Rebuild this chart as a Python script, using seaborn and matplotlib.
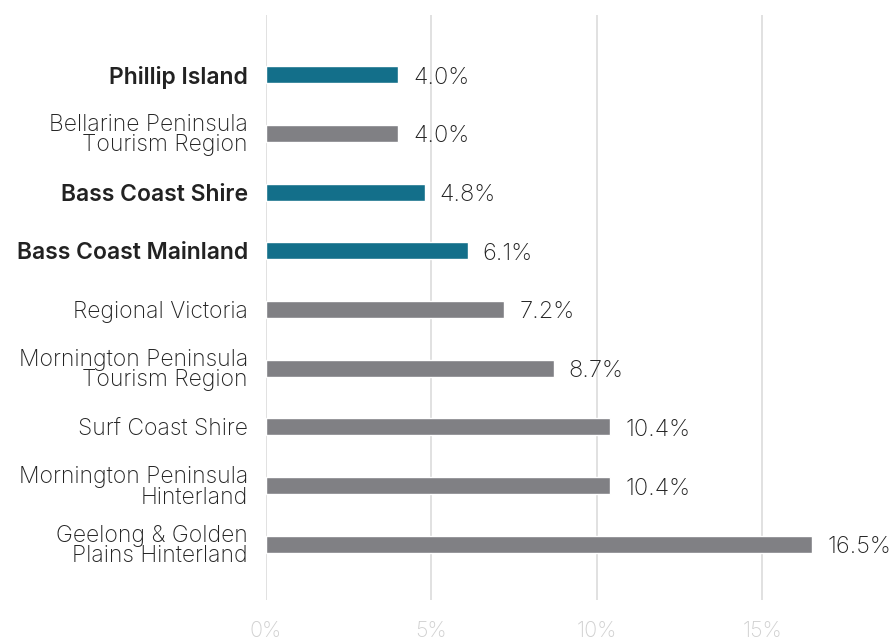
import matplotlib
matplotlib.use('Agg')
import matplotlib.pyplot as plt
import seaborn as sns
import pandas as pd

# ── Data ─────────────────────────────────────────────
regions = ['Phillip Island', 'Bellarine Peninsula\nTourism Region', 'Bass Coast Shire',
           'Bass Coast Mainland', 'Regional Victoria', 'Mornington Peninsula\nTourism Region',
           'Surf Coast Shire', 'Mornington Peninsula\nHinterland', 'Geelong & Golden\nPlains Hinterland']
values = [4.0, 4.0, 4.8, 6.1, 7.2, 8.7, 10.4, 10.4, 16.5]
highlight = [True, False, True, True, False, False, False, False, False]
x_ticks = [0, 5, 10, 15]

teal = '#136f8a'
grey = '#808084'

df = pd.DataFrame({'region': regions, 'value': values, 'hl': highlight})

sns.set_theme(style='white')
plt.rcParams['font.family'] = ['Inter', 'DejaVu Sans']

fig = plt.figure(figsize=(8.91, 6.42), dpi=100)
ax = fig.add_axes([266 / 891, 42 / 642, 614 / 891, 585 / 642])

sns.barplot(data=df, y='region', x='value', hue='region', legend=False,
            palette=[teal if h else grey for h in highlight],
            width=0.29, orient='h', ax=ax, saturation=1, zorder=3)

ax.set_xlim(0, 18.55)
ax.set_ylim(8.95, -1.02)
ax.set_xticks(x_ticks)
ax.set_xticklabels([f'{t}%' for t in x_ticks], color='#d0d0d0', fontsize=15.5, fontweight='light')
ax.tick_params(axis='x', length=0, pad=15)
ax.tick_params(axis='y', length=0, pad=13)
for lab, h in zip(ax.get_yticklabels(), highlight):
    lab.set_fontsize(16.5)
    lab.set_color('#222222')
    lab.set_fontweight('semibold' if h else 'light')
    lab.set_linespacing(0.9)
ax.set_xlabel('')
ax.set_ylabel('')
ax.xaxis.grid(True, color='#dcdcdc', linewidth=1.2, zorder=0)
for s in ax.spines.values():
    s.set_visible(False)

for i, v in enumerate(values):
    ax.text(v + 0.45, i + 0.05, f'{v:.1f}%', va='center', ha='left',
            fontsize=17, color='#222222', fontweight='light')

fig.savefig('out.png', dpi=100)
